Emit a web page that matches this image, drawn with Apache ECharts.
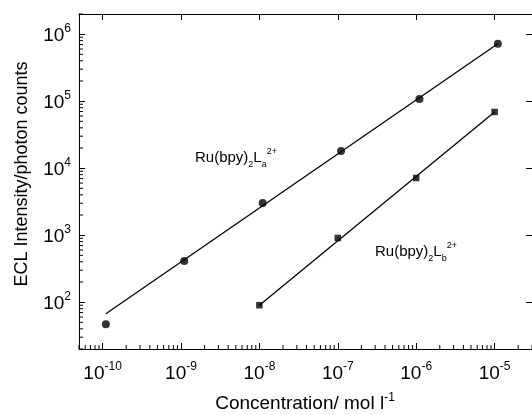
<!DOCTYPE html>
<html>
<head>
<meta charset="utf-8">
<script src="https://cdn.jsdelivr.net/npm/echarts@6/dist/echarts.min.js"></script>
<style>
  html, body { margin: 0; padding: 0; background: #fff; }
  #chart { width: 532px; height: 415px; }
</style>
</head>
<body>
<div id="chart"></div>
<script>
// Measured ECL intensity vs. concentration for the two ruthenium complexes
const concA = [1.1e-10, 1.1e-9, 1.1e-8, 1.1e-7, 1.1e-6, 1.1e-5];
const intensityA = [47, 412, 3030, 18100, 108000, 720000];
const concB = [1e-8, 1e-7, 1e-6, 1e-5];
const intensityB = [90, 908, 7140, 69000];

// End points of the straight-line fits on the log-log plot
const fitConcA = [1.1e-10, 1.1e-5];
const fitIntensityA = [67, 720000];
const fitConcB = [1e-8, 1e-5];
const fitIntensityB = [90, 69000];

// Axis ranges
const xRange = [5e-11, 3e-5];
const yRange = [20, 2e6];

const FONT = '"Liberation Sans", Arial, Helvetica, sans-serif';

function pairs(xs, ys) { return xs.map((x, i) => [x, ys[i]]); }

// "10^n" labels at whole decades only
function powLabel(v) {
  const l = Math.log10(v);
  const e = Math.round(l);
  if (Math.abs(l - e) > 1e-6) return '';
  return '{b|10}{s|' + e + '}';
}
const powRich = {
  b: { fontSize: 19, lineHeight: 22, verticalAlign: 'bottom', color: '#000', fontFamily: FONT },
  s: { fontSize: 12, lineHeight: 12, verticalAlign: 'top', color: '#000', fontFamily: FONT }
};

// Positions of the 2..9 minor ticks inside a log range
function minorTicks(range) {
  const out = [];
  const e0 = Math.floor(Math.log10(range[0]));
  const e1 = Math.ceil(Math.log10(range[1]));
  for (let e = e0; e <= e1; e++) {
    for (let m = 2; m <= 9; m++) {
      const v = m * Math.pow(10, e);
      if (v >= range[0] * 0.999 && v <= range[1] * 1.001) out.push(v);
    }
  }
  return out;
}

const axisLine = { show: true, lineStyle: { color: '#000', width: 1 } };
const majorTick = { show: true, inside: true, length: 6, lineStyle: { color: '#000', width: 1 } };

const chart = echarts.init(document.getElementById('chart'), null, { renderer: 'canvas' });

const option = {
  animation: false,
  backgroundColor: '#fff',
  textStyle: { fontFamily: FONT },
  grid: { left: 79, right: 0, top: 14, bottom: 66 },
  xAxis: [
    {
      type: 'log', logBase: 10, min: xRange[0], max: xRange[1], position: 'bottom',
      axisLine: axisLine, axisTick: majorTick, splitLine: { show: false },
      axisLabel: { margin: 12, formatter: powLabel, rich: powRich, showMinLabel: false, showMaxLabel: false }
    },
    {
      type: 'log', logBase: 10, min: xRange[0], max: xRange[1], position: 'top',
      axisLine: axisLine, axisTick: majorTick, splitLine: { show: false },
      axisLabel: { show: false }
    }
  ],
  yAxis: [
    {
      type: 'log', logBase: 10, min: yRange[0], max: yRange[1], position: 'left',
      axisLine: axisLine, axisTick: majorTick, splitLine: { show: false },
      axisLabel: { margin: 8, formatter: powLabel, rich: powRich, showMinLabel: false, showMaxLabel: false }
    },
    {
      type: 'log', logBase: 10, min: yRange[0], max: yRange[1], position: 'right',
      axisLine: axisLine, axisTick: majorTick, splitLine: { show: false },
      axisLabel: { show: false }
    }
  ],
  series: [
    // minor ticks along the bottom axis
    {
      type: 'custom', xAxisIndex: 0, yAxisIndex: 0, silent: true, z: 5,
      data: minorTicks(xRange).map(v => [v, yRange[0]]),
      renderItem: function (params, api) {
        const p = api.coord([api.value(0), api.value(1)]);
        return { type: 'line', shape: { x1: p[0], y1: p[1], x2: p[0], y2: p[1] - 4 },
                 style: { stroke: '#000', lineWidth: 1 } };
      }
    },
    // minor ticks along the left axis
    {
      type: 'custom', xAxisIndex: 0, yAxisIndex: 0, silent: true, z: 5,
      data: minorTicks(yRange).map(v => [xRange[0], v]),
      renderItem: function (params, api) {
        const p = api.coord([api.value(0), api.value(1)]);
        return { type: 'line', shape: { x1: p[0], y1: p[1], x2: p[0] + 4, y2: p[1] },
                 style: { stroke: '#000', lineWidth: 1 } };
      }
    },
    {
      type: 'line', data: pairs(fitConcA, fitIntensityA), symbol: 'none',
      lineStyle: { color: '#000', width: 1.3 }, z: 2
    },
    {
      type: 'line', data: pairs(fitConcB, fitIntensityB), symbol: 'none',
      lineStyle: { color: '#000', width: 1.3 }, z: 2
    },
    {
      type: 'scatter', data: pairs(concA, intensityA), symbol: 'circle', symbolSize: 8,
      itemStyle: { color: '#000' }, z: 3
    },
    {
      type: 'scatter', data: pairs(concB, intensityB), symbol: 'rect', symbolSize: 6.5,
      itemStyle: { color: '#000' }, z: 3
    }
  ],
  graphic: [
    {
      type: 'text', left: 195, top: 147, silent: true,
      style: {
        text: '{n|Ru(bpy)}{sub|2}{n|L}{sub|a}{sup|2+}',
        rich: {
          n: { fontSize: 15, lineHeight: 22, verticalAlign: 'middle', fill: '#000', fontFamily: FONT },
          sub: { fontSize: 9, lineHeight: 9, verticalAlign: 'bottom', fill: '#000', fontFamily: FONT },
          sup: { fontSize: 9, lineHeight: 9, verticalAlign: 'top', fill: '#000', fontFamily: FONT }
        }
      }
    },
    {
      type: 'text', left: 375, top: 241, silent: true,
      style: {
        text: '{n|Ru(bpy)}{sub|2}{n|L}{sub|b}{sup|2+}',
        rich: {
          n: { fontSize: 15, lineHeight: 22, verticalAlign: 'middle', fill: '#000', fontFamily: FONT },
          sub: { fontSize: 9, lineHeight: 9, verticalAlign: 'bottom', fill: '#000', fontFamily: FONT },
          sup: { fontSize: 9, lineHeight: 9, verticalAlign: 'top', fill: '#000', fontFamily: FONT }
        }
      }
    },
    {
      type: 'text', x: 305, y: 404, silent: true,
      style: {
        text: '{t|Concentration/ mol l}{s|-1}',
        align: 'center', verticalAlign: 'middle',
        rich: {
          t: { fontSize: 19, lineHeight: 24, verticalAlign: 'middle', fill: '#000', fontFamily: FONT },
          s: { fontSize: 12, lineHeight: 12, verticalAlign: 'top', fill: '#000', fontFamily: FONT }
        }
      }
    },
    {
      type: 'text', x: 22, y: 174, rotation: Math.PI / 2, silent: true,
      style: {
        text: 'ECL Intensity/photon counts',
        align: 'center', verticalAlign: 'middle',
        fontSize: 18, fill: '#000', fontFamily: FONT
      }
    }
  ]
};

chart.setOption(option);
</script>
</body>
</html>
